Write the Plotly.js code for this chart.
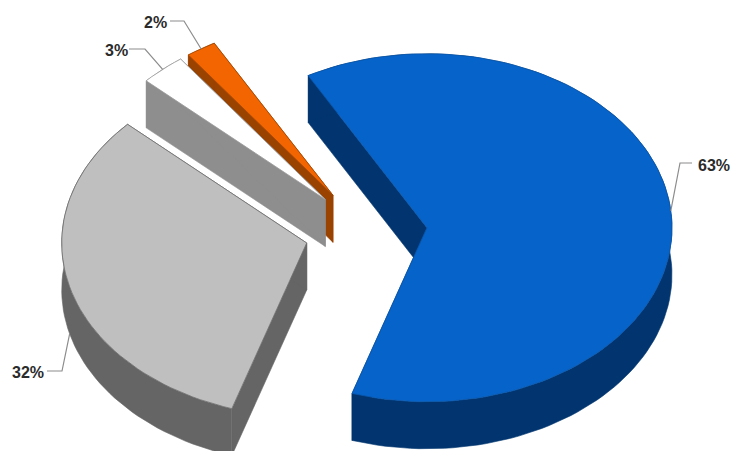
<!DOCTYPE html>
<html>
<head>
<meta charset="utf-8">
<script src="https://cdn.plot.ly/plotly-3.0.1.min.js"></script>
<style>html,body{margin:0;padding:0;background:#fff}#chart{width:732px;height:451px}</style>
</head>
<body>
<div id="chart"></div>
<script>
// Slice shares, clockwise from the start angle
const categories = ['A', 'B', 'C', 'D'];
const shares = [63, 32, 3, 2];
const tickLabels = ['63%', '32%', '3%', '2%'];
const topColors = ['#0563c9', '#bfbfbf', '#ffffff', '#f26500'];
const wallColors = ['#02356f', '#656565', '#8e8e8e', '#9a4200'];
const edgeColors = ['#0a58ad', '#6e6e6e', '#9a9a9a', '#a34700'];

// Oblique pie projection, in plot units (one unit is one pixel)
const W = 732, H = 451;
const hub = {x: 366, y: 232};
const rx = 245, ry = 174, depth = 47;
const explode = 0.25;
const startDeg = -29;
const drawOrder = [3, 2, 1, 0];

// Label text position and elbow of each leader line, by slice
const labelAt = [[714, 165], [28, 372], [116, 50], [155, 22]];
const elbowAt = [[[692, 163], [680, 163]], [[47, 371], [62, 371]], [[129, 49], [145, 49]], [[170, 21], [184, 21]]];

const rad = d => d * Math.PI / 180;
const total = shares.reduce((a, b) => a + b, 0);

// Rim point of a slice at a clockwise angle from twelve o'clock
const rim = (c, deg, dy = 0) => [c.x + rx * Math.sin(rad(deg)), c.y - ry * Math.cos(rad(deg)) + dy];

function arc(c, a0, a1, dy = 0) {
  const n = Math.max(4, Math.ceil(Math.abs(a1 - a0) / 2));
  const pts = [];
  for (let i = 0; i <= n; i++) pts.push(rim(c, a0 + (a1 - a0) * i / n, dy));
  return pts;
}

function poly(pts, fill, line, width) {
  return {
    type: 'scatter', mode: 'lines', fill: 'toself', fillcolor: fill,
    x: pts.map(p => p[0]), y: pts.map(p => p[1]),
    line: {color: line, width: width}, hoverinfo: 'skip', showlegend: false
  };
}

// Angular extents and exploded centres
let cursor = startDeg;
const slices = shares.map((v, i) => {
  const a0 = cursor, a1 = cursor + v / total * 360;
  cursor = a1;
  const mid = (a0 + a1) / 2;
  const c = {
    x: hub.x + explode * rx * Math.sin(rad(mid)),
    y: hub.y - explode * ry * Math.cos(rad(mid))
  };
  return {i, a0, a1, mid, c};
});

const traces = [];
drawOrder.forEach(k => {
  const s = slices[k], c = s.c;
  const apex = [c.x, c.y], apexLow = [c.x, c.y + depth];
  const wall = wallColors[k], top = topColors[k], edge = edgeColors[k];
  // Radial walls, outer wall, then the top face covers whatever is behind it
  traces.push(poly([apex, rim(c, s.a0), rim(c, s.a0, depth), apexLow, apex], wall, wall, 0.6));
  traces.push(poly([apex, rim(c, s.a1), rim(c, s.a1, depth), apexLow, apex], wall, wall, 0.6));
  traces.push(poly(arc(c, s.a0, s.a1).concat(arc(c, s.a1, s.a0, depth)), wall, wall, 0.6));
  traces.push(poly([apex].concat(arc(c, s.a0, s.a1), [apex]), top, edge, 0.8));
});

// Leader lines run from the text elbow to the rim at each slice's mid angle
const shapes = slices.map(s => {
  const lower = Math.cos(rad(s.mid)) < -0.2;
  const end = rim(s.c, s.mid, lower ? depth : 0);
  const pts = elbowAt[s.i].concat([end]);
  return {
    type: 'path', xref: 'x', yref: 'y',
    path: 'M' + pts.map(p => p[0] + ',' + p[1]).join('L'),
    line: {color: '#8c8c8c', width: 1.2}, layer: 'above'
  };
});

const annotations = tickLabels.map((t, i) => ({
  x: labelAt[i][0], y: labelAt[i][1], xref: 'x', yref: 'y',
  text: '<b>' + t + '</b>', showarrow: false, xanchor: 'center', yanchor: 'middle',
  font: {family: 'Liberation Sans, Arial, sans-serif', size: 16, color: '#2b2b2b'}
}));

const hiddenAxis = {visible: false, showgrid: false, zeroline: false, fixedrange: true};
Plotly.newPlot('chart', traces, {
  width: W, height: H,
  margin: {l: 0, r: 0, t: 0, b: 0},
  paper_bgcolor: '#ffffff', plot_bgcolor: '#ffffff',
  xaxis: Object.assign({range: [0, W]}, hiddenAxis),
  yaxis: Object.assign({range: [H, 0]}, hiddenAxis),
  shapes, annotations, showlegend: false
}, {displayModeBar: false, staticPlot: true});
</script>
</body>
</html>
